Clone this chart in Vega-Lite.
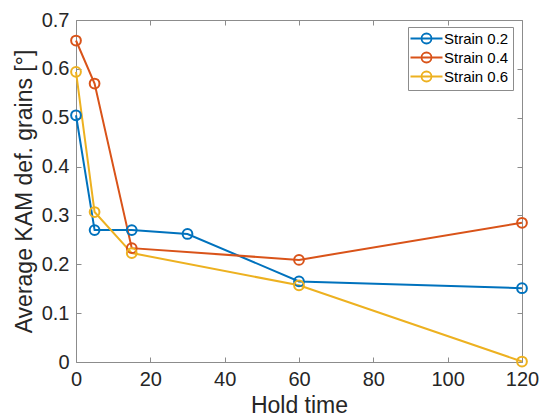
{
  "$schema": "https://vega.github.io/schema/vega-lite/v6.json",
  "width": 446,
  "height": 342,
  "autosize": "none",
  "padding": {"left": 76, "top": 20, "right": 18, "bottom": 56},
  "background": "white",
  "config": {
    "font": "Liberation Sans",
    "view": {"stroke": null},
    "axis": {
      "grid": false,
      "domainColor": "#8c8c8c",
      "domainWidth": 1,
      "tickColor": "#8c8c8c",
      "tickWidth": 1,
      "tickSize": -5,
      "labelFlush": false,
      "labelColor": "#262626",
      "labelFontSize": 20,
      "titleColor": "#262626",
      "titleFontSize": 23,
      "titleFontWeight": "normal"
    }
  },
  "data": {
    "values": [
      {"hold": 0, "kam": 0.505, "strain": "Strain 0.2"},
      {"hold": 5, "kam": 0.270, "strain": "Strain 0.2"},
      {"hold": 15, "kam": 0.270, "strain": "Strain 0.2"},
      {"hold": 30, "kam": 0.262, "strain": "Strain 0.2"},
      {"hold": 60, "kam": 0.165, "strain": "Strain 0.2"},
      {"hold": 120, "kam": 0.151, "strain": "Strain 0.2"},
      {"hold": 0, "kam": 0.658, "strain": "Strain 0.4"},
      {"hold": 5, "kam": 0.570, "strain": "Strain 0.4"},
      {"hold": 15, "kam": 0.233, "strain": "Strain 0.4"},
      {"hold": 60, "kam": 0.209, "strain": "Strain 0.4"},
      {"hold": 120, "kam": 0.285, "strain": "Strain 0.4"},
      {"hold": 0, "kam": 0.594, "strain": "Strain 0.6"},
      {"hold": 5, "kam": 0.307, "strain": "Strain 0.6"},
      {"hold": 15, "kam": 0.223, "strain": "Strain 0.6"},
      {"hold": 60, "kam": 0.157, "strain": "Strain 0.6"},
      {"hold": 120, "kam": 0.001, "strain": "Strain 0.6"}
    ]
  },
  "encoding": {
    "color": {
      "field": "strain",
      "type": "nominal",
      "scale": {"domain": ["Strain 0.2", "Strain 0.4", "Strain 0.6"], "range": ["#0072BD", "#D95319", "#EDB120"]},
      "legend": {
        "title": null,
        "orient": "none",
        "legendX": 332,
        "legendY": 7,
        "symbolType": "M-3.2,0L3.2,0M1,0A1,1 0 1,1 -1,0A1,1 0 1,1 1,0",
        "symbolSize": 100,
        "symbolStrokeWidth": 1.8,
        "symbolFillColor": "transparent",
        "symbolOffset": 7,
        "labelOffset": 10,
        "labelFontSize": 15,
        "labelColor": "#000000",
        "rowPadding": 0,
        "padding": 4,
        "strokeColor": "#8c8c8c",
        "fillColor": "white"
      }
    }
  },
  "layer": [
    {
      "mark": {"type": "line", "strokeWidth": 2},
      "encoding": {
        "x": {"field": "hold", "type": "quantitative", "scale": {"domain": [0, 120], "nice": false},
          "axis": {"orient": "bottom", "title": "Hold time", "values": [0, 20, 40, 60, 80, 100, 120], "labelPadding": 12, "titlePadding": 5}},
        "y": {"field": "kam", "type": "quantitative", "scale": {"domain": [0, 0.7], "nice": false},
          "axis": {"orient": "left", "title": "Average KAM def. grains [°]", "format": "~g", "values": [0, 0.1, 0.2, 0.3, 0.4, 0.5, 0.6, 0.7], "labelPadding": 12, "titlePadding": 5}}
      }
    },
    {
      "mark": {"type": "point", "filled": false, "size": 95, "strokeWidth": 2, "opacity": 1},
      "encoding": {
        "x": {"field": "hold", "type": "quantitative", "scale": {"domain": [0, 120], "nice": false},
          "axis": {"orient": "top", "title": null, "labels": false, "values": [0, 20, 40, 60, 80, 100, 120]}},
        "y": {"field": "kam", "type": "quantitative", "scale": {"domain": [0, 0.7], "nice": false},
          "axis": {"orient": "right", "title": null, "labels": false, "values": [0, 0.1, 0.2, 0.3, 0.4, 0.5, 0.6, 0.7]}}
      }
    }
  ],
  "resolve": {"axis": {"x": "independent", "y": "independent"}}
}
